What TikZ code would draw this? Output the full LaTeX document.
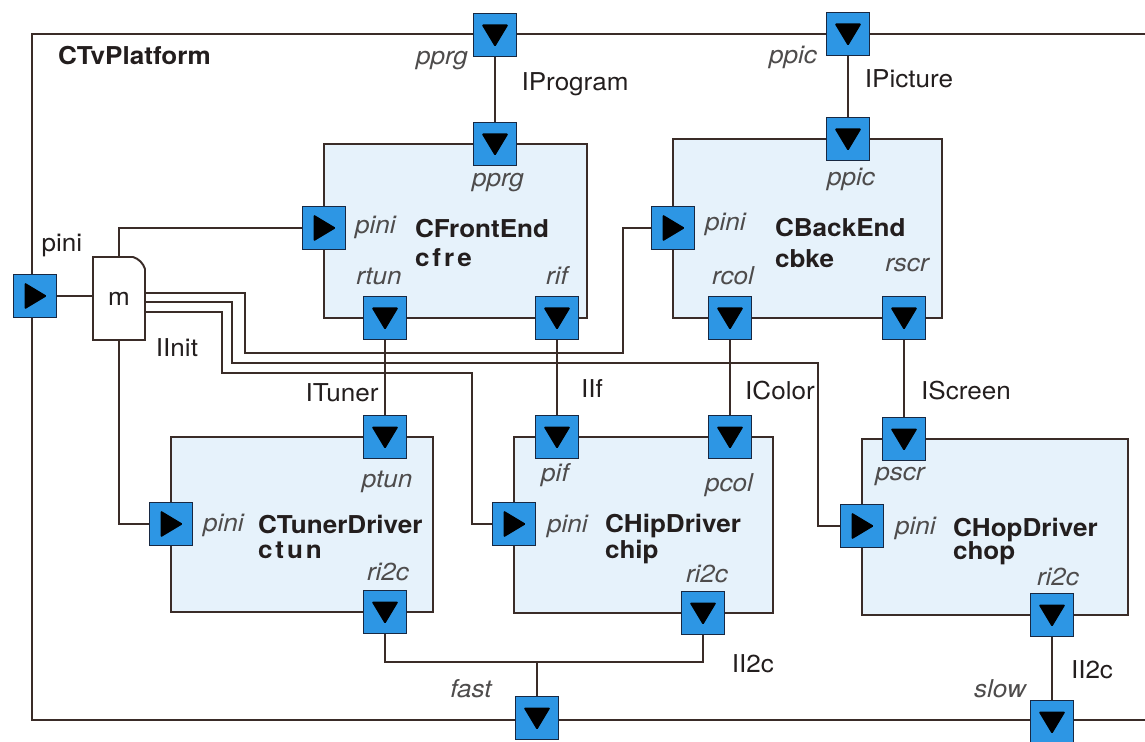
\documentclass[tikz,border=0pt]{standalone}
\usepackage{fontspec}
\setmainfont{TeX Gyre Heros}[FakeStretch=1.06]
\usetikzlibrary{calc}
\definecolor{portblue}{RGB}{45,150,228}
\definecolor{portedge}{RGB}{24,40,66}
\definecolor{compfill}{RGB}{230,242,251}
\definecolor{wire}{RGB}{58,44,40}
\definecolor{lbl}{RGB}{78,76,76}
\definecolor{ink}{RGB}{35,30,30}
\newcommand\sz{\fontsize{14}{16}\selectfont}
\pgfdeclarelayer{boxes}
\pgfdeclarelayer{wires}
\pgfsetlayers{boxes,wires,main}
\begin{document}
\begin{tikzpicture}[x=0.02cm,y=-0.02cm,
  every node/.style={inner sep=0pt, outer sep=0pt},
  wireline/.style={draw=wire, line width=1.1pt},
  compbox/.style={draw=wire, line width=1.1pt, fill=compfill, rectangle, anchor=north west},
  portbase/.style={rectangle, draw=portedge, line width=0.9pt, fill=portblue, minimum size=0.86cm},
  portdown/.style={portbase, path picture={\fill[black, rounded corners=0.8pt] ($(path picture bounding box.center)+(-0.27cm,0.21cm)$) -- ++(0.54cm,0cm) -- ++(-0.27cm,-0.45cm) -- cycle;}},
  portright/.style={portbase, path picture={\fill[black, rounded corners=0.8pt] ($(path picture bounding box.center)+(-0.21cm,0.27cm)$) -- ++(0cm,-0.54cm) -- ++(0.45cm,0.27cm) -- cycle;}},
  plab/.style={font=\sz\itshape, text=lbl, anchor=base},
  plabw/.style={plab, anchor=base west},
  ilab/.style={font=\sz, text=ink, anchor=base},
  blab/.style={font=\sz\bfseries, text=ink, anchor=base west},
  spaced/.style={font=\sz\bfseries\addfontfeature{LetterSpace=12}}
]
\useasboundingbox (0,0) rectangle (1145,742);
\begin{pgfonlayer}{boxes}
\fill[white] (0,0) rectangle (1145,742);
\draw[wireline] (32,34) rectangle (1190,720);
\node[compbox, minimum width=5.26cm, minimum height=3.48cm] (cfre) at (324,144) {};
\node[compbox, minimum width=5.38cm, minimum height=3.58cm] (cbke) at (673,139) {};
\node[compbox, minimum width=5.24cm, minimum height=3.50cm] (ctun) at (171,437) {};
\node[compbox, minimum width=5.18cm, minimum height=3.52cm] (chip) at (514,437) {};
\node[compbox, minimum width=5.32cm, minimum height=3.52cm] (chop) at (862,439) {};
\end{pgfonlayer}
% m node
\node[minimum width=1.04cm, minimum height=1.66cm, fill=white, font=\sz, text=ink] (m) at (119,298.5) {m};
\draw[wireline] (m.south west) -- (m.north west) -- ([xshift=-0.24cm]m.north east)
  .. controls ([xshift=-0.13cm,yshift=-0.03cm]m.north east) and ([xshift=-0.03cm,yshift=-0.13cm]m.north east) .. ([yshift=-0.24cm]m.north east)
  -- (m.south east) -- cycle;
% ports
\node[portdown] (Ppprg) at (495,35) {};
\node[portdown] (Pppic) at (848,34) {};
\node[portright] (Ppini) at (35,296) {};
\node[portdown] (Pfast) at (537,718) {};
\node[portdown] (Pslow) at (1052,722) {};
\node[portdown] (cfrepprg) at (495,144) {};
\node[portright] (cfrepini) at (324,228) {};
\node[portdown] (cfrertun) at (385,318) {};
\node[portdown] (cfrerif) at (557,318) {};
\node[portdown] (cbkeppic) at (848,139) {};
\node[portright] (cbkepini) at (673,228) {};
\node[portdown] (cbkercol) at (730,318) {};
\node[portdown] (cbkerscr) at (904,318) {};
\node[portdown] (ctunptun) at (385,437) {};
\node[portright] (ctunpini) at (171,524) {};
\node[portdown] (ctunri2c) at (385,612) {};
\node[portdown] (chippif) at (557,437) {};
\node[portdown] (chippcol) at (730,437) {};
\node[portright] (chippini) at (514,524) {};
\node[portdown] (chipri2c) at (703,613) {};
\node[portdown] (choppscr) at (904,439) {};
\node[portright] (choppini) at (862,526) {};
\node[portdown] (chopri2c) at (1052,615) {};
% wires
\begin{pgfonlayer}{wires}
\coordinate (j) at (537,662);
\draw[wireline] (Ppprg.south) -- (cfrepprg.north);
\draw[wireline] (Pppic.south) -- (cbkeppic.north);
\draw[wireline] (Ppini.east) -- (Ppini.east -| m.west);
\draw[wireline] (m.north) |- (cfrepini.west);
\draw[wireline] (m.south) |- (ctunpini.west);
\draw[wireline] (m.east |- 0,293) -- (245,293) -- (245,353) -- (623,353) |- (cbkepini.west);
\draw[wireline] (m.east |- 0,302) -- (232,302) -- (232,363) -- (818,363) |- (choppini.west);
\draw[wireline] (m.east |- 0,312) -- (222,312) -- (222,373) -- (472,373) |- (chippini.west);
\draw[wireline] (cfrertun.south) -- (ctunptun.north);
\draw[wireline] (cfrerif.south) -- (chippif.north);
\draw[wireline] (cbkercol.south) -- (chippcol.north);
\draw[wireline] (cbkerscr.south) -- (choppscr.north);
\draw[wireline] (ctunri2c.south) |- (j) -| (chipri2c.south);
\draw[wireline] (j) -- (Pfast.north);
\draw[wireline] (chopri2c.south) -- (Pslow.north);
\end{pgfonlayer}
% labels
\node[blab] (tplat) at (58,65) {CTvPlatform};
\node[ilab] (tpini) at (62,252) {pini};
\node[plab] (tpprgo) at (442,65) {pprg};
\node[ilab] (tiprog) at (575,91) {IProgram};
\node[plab] (tppico) at (793,64) {ppic};
\node[ilab] (tipic) at (909,88) {IPicture};
\node[plab] (tpprgi) at (498,187) {pprg};
\node[plab] (tppici) at (851,186) {ppic};
\node[plabw] (tcfrepini) at (355,234) {pini};
\node[blab] (tcfre) at (415,238) {CFrontEnd};
\node[blab, spaced] (tcfrei) at (415,267) {cfre};
\node[plab] (trtun) at (379,285) {rtun};
\node[plab] (trif) at (557,285) {rif};
\node[plabw] (tcbkepini) at (705,231) {pini};
\node[blab] (tcbke) at (775,237) {CBackEnd};
\node[blab] (tcbkei) at (775,268) {cbke};
\node[plab] (trcol) at (733,285) {rcol};
\node[plab] (trscr) at (907,272) {rscr};
\node[ilab] (tiinit) at (177,357) {IInit};
\node[ilab] (rituner) at (342,402) {ITuner};
\node[ilab] (tiif) at (592,398) {IIf};
\node[ilab] (ticolor) at (780,400) {IColor};
\node[ilab] (tiscreen) at (966,400) {IScreen};
\node[plab] (tptun) at (387,488) {ptun};
\node[plabw] (tctunpini) at (203,531) {pini};
\node[blab] (tctun) at (258,533) {CTunerDriver};
\node[blab, spaced] (tctuni) at (258,558) {ctun};
\node[plab] (tctunri2c) at (388,580) {ri2c};
\node[plab] (tpif) at (555,481) {pif};
\node[plab] (tpcol) at (729,492) {pcol};
\node[plabw] (tchippini) at (547,532) {pini};
\node[blab] (tchip) at (605,532) {CHipDriver};
\node[blab] (tchipi) at (605,558) {chip};
\node[plab] (tchipri2c) at (707,582) {ri2c};
\node[plab] (tpscr) at (900,480) {pscr};
\node[plabw] (tchoppini) at (895,535) {pini};
\node[blab] (tchop) at (953,537) {CHopDriver};
\node[blab] (tchopi) at (953,560) {chop};
\node[plab] (tchopri2c) at (1058,585) {ri2c};
\node[ilab] (tii2cf) at (753,672) {II2c};
\node[plab] (tfast) at (471,697) {fast};
\node[ilab] (tii2cs) at (1092,678) {II2c};
\node[plab] (tslow) at (1000,697) {slow};
\end{tikzpicture}
\end{document}
